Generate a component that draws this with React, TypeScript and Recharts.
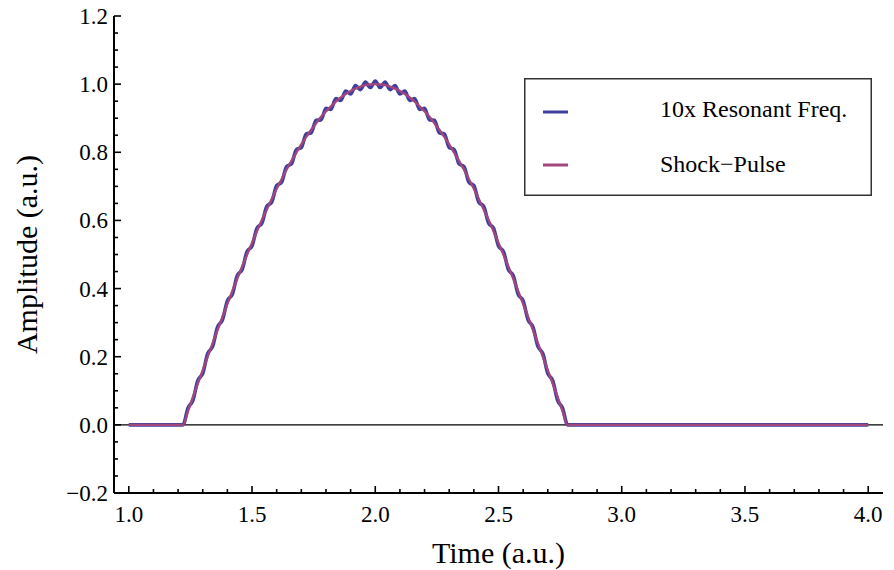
import React from 'react';
import { LineChart, Line, XAxis, YAxis, ReferenceLine, Legend } from 'recharts';

// time samples (a.u.), flat before 1.22 and after 2.78
const time = [
  1.0,
  1.22, 1.24, 1.26, 1.28, 1.3, 1.32, 1.34, 1.36, 1.38, 1.4,
  1.42, 1.44, 1.46, 1.48, 1.5, 1.52, 1.54, 1.56, 1.58, 1.6,
  1.62, 1.64, 1.66, 1.68, 1.7, 1.72, 1.74, 1.76, 1.78, 1.8,
  1.82, 1.84, 1.86, 1.88, 1.9, 1.92, 1.94, 1.96, 1.98, 2.0,
  2.02, 2.04, 2.06, 2.08, 2.1, 2.12, 2.14, 2.16, 2.18, 2.2,
  2.22, 2.24, 2.26, 2.28, 2.3, 2.32, 2.34, 2.36, 2.38, 2.4,
  2.42, 2.44, 2.46, 2.48, 2.5, 2.52, 2.54, 2.56, 2.58, 2.6,
  2.62, 2.64, 2.66, 2.68, 2.7, 2.72, 2.74, 2.76, 2.78,
  4.0,
];

// 10x resonant frequency response (small ripple riding on the pulse)
const resonant = [
  0,
  0, 0.049, 0.072, 0.13, 0.151, 0.209, 0.23, 0.287, 0.308, 0.364,
  0.383, 0.438, 0.456, 0.509, 0.525, 0.577, 0.592, 0.641, 0.654, 0.702,
  0.712, 0.758, 0.766, 0.808, 0.814, 0.854, 0.857, 0.894, 0.895, 0.929,
  0.926, 0.958, 0.952, 0.98, 0.971, 0.996, 0.984, 1.006, 0.99, 1.009,
  0.99, 1.006, 0.984, 0.996, 0.971, 0.98, 0.952, 0.958, 0.926, 0.929,
  0.895, 0.894, 0.857, 0.854, 0.814, 0.808, 0.766, 0.758, 0.712, 0.702,
  0.654, 0.641, 0.592, 0.577, 0.525, 0.509, 0.456, 0.438, 0.383, 0.364,
  0.308, 0.287, 0.23, 0.209, 0.151, 0.13, 0.072, 0.049, 0,
  0,
];

// half-sine shock pulse
const shockPulse = [
  0,
  0, 0.04, 0.081, 0.121, 0.16, 0.2, 0.239, 0.278, 0.317, 0.355,
  0.392, 0.429, 0.465, 0.5, 0.534, 0.568, 0.601, 0.632, 0.663, 0.693,
  0.721, 0.749, 0.775, 0.799, 0.823, 0.845, 0.866, 0.885, 0.904, 0.92,
  0.935, 0.949, 0.961, 0.971, 0.98, 0.987, 0.993, 0.997, 0.999, 1.0,
  0.999, 0.997, 0.993, 0.987, 0.98, 0.971, 0.961, 0.949, 0.935, 0.92,
  0.904, 0.885, 0.866, 0.845, 0.823, 0.799, 0.775, 0.749, 0.721, 0.693,
  0.663, 0.632, 0.601, 0.568, 0.534, 0.5, 0.465, 0.429, 0.392, 0.355,
  0.317, 0.278, 0.239, 0.2, 0.16, 0.121, 0.081, 0.04, 0,
  0,
];

const xTicks = [
  1.0, 1.1, 1.2, 1.3, 1.4, 1.5, 1.6, 1.7, 1.8, 1.9,
  2.0, 2.1, 2.2, 2.3, 2.4, 2.5, 2.6, 2.7, 2.8, 2.9,
  3.0, 3.1, 3.2, 3.3, 3.4, 3.5, 3.6, 3.7, 3.8, 3.9, 4.0,
];
const yTicks = [
  -0.2, -0.15, -0.1, -0.05, 0, 0.05, 0.1, 0.15, 0.2, 0.25, 0.3, 0.35, 0.4, 0.45, 0.5,
  0.55, 0.6, 0.65, 0.7, 0.75, 0.8, 0.85, 0.9, 0.95, 1.0, 1.05, 1.1, 1.15, 1.2,
];

const data = time.map((t, i) => ({ t, resonant: resonant[i], shock: shockPulse[i] }));

const FONT = 'Liberation Serif';
const BLUE = '#3f409e';
const PINK = '#a2477e';

const isMajor = (v: number, step: number) => Math.abs(v / step - Math.round(v / step)) < 1e-6;
const fmt = (v: number) => {
  const s = Math.abs(v).toFixed(1);
  return v < -1e-9 ? '\u2212' + s : s;
};

const SerifText = ({ x, y, size, anchor, children, dy }: any) => (
  <text x={x} y={y} dy={dy} textAnchor={anchor} fontFamily={FONT} fontSize={size} fill="#000">
    {children}
  </text>
);

const BottomTick = (props: any) => {
  const { x, y, payload } = props;
  const major = isMajor(payload.value, 0.5);
  return (
    <g>
      <line x1={x} x2={x} y1={y} y2={y - (major ? 7 : 4)} stroke="#000" strokeWidth={1.6} />
      {major && (
        <SerifText x={x} y={y + 29} size={23} anchor="middle">
          {fmt(payload.value)}
        </SerifText>
      )}
    </g>
  );
};

const TopTick = (props: any) => {
  const { x, y, payload } = props;
  const major = isMajor(payload.value, 0.5);
  return <line x1={x} x2={x} y1={y} y2={y + (major ? 7 : 4)} stroke="#000" strokeWidth={1.6} />;
};

const LeftTick = (props: any) => {
  const { x, y, payload } = props;
  const major = isMajor(payload.value, 0.2);
  return (
    <g>
      <line x1={x} x2={x + (major ? 7 : 4)} y1={y} y2={y} stroke="#000" strokeWidth={1.6} />
      {major && (
        <SerifText x={x - 6} y={y} dy="0.35em" size={23} anchor="end">
          {fmt(payload.value)}
        </SerifText>
      )}
    </g>
  );
};

const RightTick = (props: any) => {
  const { x, y, payload } = props;
  const major = isMajor(payload.value, 0.2);
  return <line x1={x} x2={x - (major ? 7 : 4)} y1={y} y2={y} stroke="#000" strokeWidth={1.6} />;
};

const XTitle = (props: any) => {
  const vb = props.viewBox;
  return (
    <SerifText x={vb.x + vb.width / 2} y={vb.y + 70} size={30} anchor="middle">
      Time (a.u.)
    </SerifText>
  );
};

const YTitle = (props: any) => {
  const vb = props.viewBox;
  const cx = vb.x + vb.width - 77;
  const cy = vb.y + vb.height / 2;
  return (
    <g transform={`rotate(-90, ${cx}, ${cy})`}>
      <SerifText x={cx} y={cy} size={30} anchor="middle">
        Amplitude (a.u.)
      </SerifText>
    </g>
  );
};

const renderLegend = (props: any) => {
  const items = props.payload || [];
  return (
    <svg width={348} height={118} style={{ display: 'block' }}>
      <rect x={0.75} y={0.75} width={346.5} height={116.5} fill="#fff" stroke="#333" strokeWidth={1.5} />
      {items.map((item: any, i: number) => (
        <g key={item.value}>
          <line x1={19} x2={44} y1={34 + i * 53} y2={34 + i * 53} stroke={item.color} strokeWidth={3} />
          <SerifText x={136} y={39 + i * 55} size={24} anchor="start">
            {item.value}
          </SerifText>
        </g>
      ))}
    </svg>
  );
};

export default function App() {
  return (
    <div style={{ position: 'absolute', left: 0, top: 0, background: '#fff' }}>
      <LineChart width={894} height={570} data={data} margin={{ top: 16, right: 11, bottom: 27, left: 54 }}>
        <XAxis
          xAxisId="bottom"
          dataKey="t"
          type="number"
          domain={[0.94, 4.06]}
          allowDataOverflow
          ticks={xTicks}
          interval={0}
          tickSize={0}
          tickMargin={0}
          tickLine={false}
          tick={BottomTick}
          height={50}
          axisLine={{ stroke: '#000', strokeWidth: 2 }}
          label={XTitle}
        />
        <XAxis
          xAxisId="top"
          orientation="top"
          dataKey="t"
          type="number"
          domain={[0.94, 4.06]}
          allowDataOverflow
          ticks={xTicks}
          interval={0}
          tickSize={0}
          tickMargin={0}
          tickLine={false}
          tick={TopTick}
          height={0}
          axisLine={{ stroke: '#000', strokeWidth: 2 }}
        />
        <YAxis
          yAxisId="left"
          type="number"
          domain={[-0.2, 1.2]}
          allowDataOverflow
          ticks={yTicks}
          interval={0}
          tickSize={0}
          tickMargin={0}
          tickLine={false}
          tick={LeftTick}
          width={60}
          axisLine={{ stroke: '#000', strokeWidth: 2 }}
          label={YTitle}
        />
        <YAxis
          yAxisId="right"
          orientation="right"
          type="number"
          domain={[-0.2, 1.2]}
          allowDataOverflow
          ticks={yTicks}
          interval={0}
          tickSize={0}
          tickMargin={0}
          tickLine={false}
          tick={RightTick}
          width={0}
          axisLine={{ stroke: '#000', strokeWidth: 2 }}
        />
        <ReferenceLine xAxisId="bottom" yAxisId="left" y={0} stroke="#000" strokeWidth={1.3} />
        <Line
          xAxisId="bottom"
          yAxisId="left"
          type="monotone"
          dataKey="resonant"
          name="10x Resonant Freq."
          stroke={BLUE}
          strokeWidth={3.6}
          dot={false}
          isAnimationActive={false}
        />
        <Line
          xAxisId="bottom"
          yAxisId="left"
          type="monotone"
          dataKey="shock"
          name={'Shock\u2212Pulse'}
          stroke={PINK}
          strokeWidth={2.4}
          dot={false}
          isAnimationActive={false}
        />
        <Legend
          layout="vertical"
          align="center"
          verticalAlign="middle"
          wrapperStyle={{ left: 524, top: 78, width: 348, height: 118 }}
          content={renderLegend}
        />
      </LineChart>
    </div>
  );
}
